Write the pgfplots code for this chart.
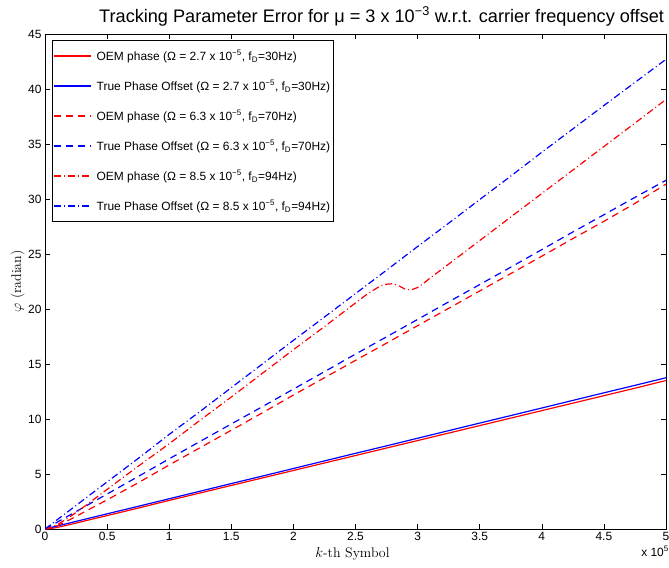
\documentclass[border=0pt]{standalone}
\usepackage{fontspec}
\usepackage{pgfplots}
\pgfplotsset{compat=1.18}
\newfontfamily\arial{Liberation Sans}
\definecolor{mred}{RGB}{255,0,0}
\definecolor{mblue}{RGB}{0,0,255}
\begin{document}
\begin{tikzpicture}
\useasboundingbox (-45bp,-39bp) rectangle (624bp,529bp);
\begin{axis}[
  at={(0,0)}, anchor=south west,
  scale only axis, width=621bp, height=495bp,
  xmin=0, xmax=5, ymin=0, ymax=45,
  xtick={0,0.5,...,5}, ytick={0,5,...,45},
  tick align=inside, major tick length=5bp,
  axis line style={line width=1bp, black},
  tick style={black, line width=0.6bp},
  /pgf/number format/assume math mode=true,
  ticklabel style={font=\arial\fontsize{12}{14}\selectfont},
  title={\arial\fontsize{18.2}{21}\selectfont Tracking Parameter Error for μ = 3 x 10\textsuperscript{−3} w.r.t. carrier frequency offset},
  title style={at={(rel axis cs:0.087,1)}, anchor=base west, yshift=6bp, inner sep=0pt},
  xlabel={$k$-th Symbol},
  ylabel={$\varphi$ (radian)},
  label style={font=\fontsize{14}{16}\selectfont},
  xlabel style={at={(rel axis cs:0.5,0)}, anchor=base, yshift=-28bp, xshift=-3bp, inner sep=0pt},
  ylabel style={at={([xshift=-24bp]rel axis cs:0,0.5)}, anchor=base, rotate=0, inner sep=0pt},
  legend cell align=left,
  legend style={at={(0,1)}, anchor=north west, xshift=7bp, yshift=-6bp,
    draw=black, line width=0.9bp, font=\arial\fontsize{12}{14}\selectfont,
    row sep=14.7bp, inner xsep=1bp, inner ysep=8bp},
  clip mode=individual,
]
% OEM phase Omega=2.7e-5
\addplot[draw=mred, line width=1.2bp,
  legend image code/.code={\draw[draw=mred, line width=1.3bp] (2bp,0bp) -- (39bp,0bp); \path (42bp,0bp);}] coordinates {
(0,0) (0.05,0.05) (0.1,0.15) (0.2,0.4) (0.3,0.68) (0.5,1.22) (0.75,1.9) (1,2.6) (1.25,3.28) (1.5,3.96) (1.75,4.64) (2,5.32) (2.25,6.0) (2.5,6.68) (2.75,7.36) (3,8.04) (3.25,8.72) (3.5,9.4) (3.75,10.08) (4,10.76) (4.25,11.44) (4.5,12.12) (4.75,12.8) (5,13.5)};
\addlegendentry{OEM phase (Ω = 2.7 x 10\textsuperscript{−5}, f\textsubscript{D}=30Hz)}
% True Omega=2.7e-5
\addplot[draw=mblue, line width=1.2bp,
  legend image code/.code={\draw[draw=mblue, line width=1.3bp] (2bp,0bp) -- (39bp,0bp); \path (42bp,0bp);}] coordinates {
(0,0) (0.05,0.14) (0.1,0.28) (0.2,0.55) (0.3,0.83) (0.5,1.38) (0.75,2.06) (1,2.75) (1.25,3.44) (1.5,4.13) (1.75,4.81) (2,5.5) (2.25,6.19) (2.5,6.88) (2.75,7.56) (3,8.25) (3.25,8.94) (3.5,9.63) (3.75,10.31) (4,11.0) (4.25,11.69) (4.5,12.38) (4.75,13.06) (5,13.75)};
\addlegendentry{True Phase Offset (Ω = 2.7 x 10\textsuperscript{−5}, f\textsubscript{D}=30Hz)}
% OEM 6.3e-5
\addplot[draw=mred, line width=1.2bp, dash pattern=on 7bp off 5bp,
  legend image code/.code={\draw[draw=mred, line width=1.3bp, dash pattern=on 7bp off 5bp] (2bp,0bp) -- (39bp,0bp); \path (42bp,0bp);}] coordinates {
(0,0) (0.05,0.1) (0.1,0.3) (0.2,0.85) (0.3,1.45) (0.5,2.65) (0.75,4.2) (1,5.82) (1.25,7.4) (1.5,8.98) (1.75,10.56) (2,12.18) (2.25,13.75) (2.5,15.33) (2.75,16.9) (3,18.48) (3.25,20.06) (3.5,21.64) (3.75,23.22) (4,24.8) (4.25,26.4) (4.5,27.97) (4.75,29.6) (5,31.35)};
\addlegendentry{OEM phase (Ω = 6.3 x 10\textsuperscript{−5}, f\textsubscript{D}=70Hz)}
% True 6.3e-5
\addplot[draw=mblue, line width=1.2bp, dash pattern=on 7bp off 5bp,
  legend image code/.code={\draw[draw=mblue, line width=1.3bp, dash pattern=on 7bp off 5bp] (2bp,0bp) -- (39bp,0bp); \path (42bp,0bp);}] coordinates {
(0,0) (0.05,0.3) (0.1,0.63) (0.2,1.27) (0.3,1.9) (0.5,3.18) (0.75,4.77) (1,6.38) (1.25,7.97) (1.5,9.55) (1.75,11.12) (2,12.72) (2.25,14.3) (2.5,15.9) (2.75,17.47) (3,19.05) (3.25,20.65) (3.5,22.22) (3.75,23.8) (4,25.4) (4.25,27.0) (4.5,28.57) (4.75,30.15) (5,31.7)};
\addlegendentry{True Phase Offset (Ω = 6.3 x 10\textsuperscript{−5}, f\textsubscript{D}=70Hz)}
% OEM 8.5e-5
\addplot[draw=mred, line width=1.2bp, dash pattern=on 7bp off 3bp on 1bp off 3bp,
  legend image code/.code={\draw[draw=mred, line width=1.3bp, dash pattern=on 7bp off 3bp on 1bp off 3bp] (2bp,0bp) -- (39bp,0bp); \path (42bp,0bp);}] coordinates {
(0,0) (0.05,0.15) (0.1,0.4) (0.2,1.1) (0.3,1.9) (0.5,3.6) (0.75,5.7) (1,7.75) (1.25,9.9) (1.5,12.0) (1.75,14.15) (2,16.3) (2.25,18.4) (2.5,20.55) (2.6,21.4) (2.7,22.1) (2.75,22.25) (2.8,22.3) (2.85,22.1) (2.9,21.8) (2.95,21.75) (3,21.95) (3.05,22.35) (3.1,22.8) (3.25,24.08) (3.5,26.22) (3.75,28.36) (4,30.5) (4.25,32.63) (4.5,34.77) (4.75,36.9) (5,39.05)};
\addlegendentry{OEM phase (Ω = 8.5 x 10\textsuperscript{−5}, f\textsubscript{D}=94Hz)}
% True 8.5e-5
\addplot[draw=mblue, line width=1.2bp, dash pattern=on 7bp off 3bp on 1bp off 3bp,
  legend image code/.code={\draw[draw=mblue, line width=1.3bp, dash pattern=on 7bp off 3bp on 1bp off 3bp] (2bp,0bp) -- (39bp,0bp); \path (42bp,0bp);}] coordinates {
(0,0) (0.05,0.43) (0.1,0.86) (0.2,1.71) (0.3,2.57) (0.5,4.28) (0.75,6.41) (1,8.6) (1.25,10.7) (1.5,12.85) (1.75,15.0) (2,17.15) (2.25,19.27) (2.5,21.4) (2.75,23.53) (3,25.68) (3.25,27.8) (3.5,29.95) (3.75,32.08) (4,34.25) (4.25,36.37) (4.5,38.5) (4.75,40.6) (5,42.7)};
\addlegendentry{True Phase Offset (Ω = 8.5 x 10\textsuperscript{−5}, f\textsubscript{D}=94Hz)}
\end{axis}
\node[anchor=base east, inner sep=0pt, font=\arial\fontsize{12}{14}\selectfont] at (624bp,-27bp) {x 10\textsuperscript{5}};
\end{tikzpicture}
\end{document}
